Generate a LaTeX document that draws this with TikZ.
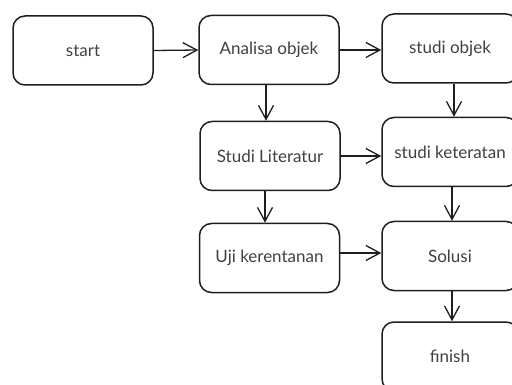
\documentclass[tikz,border=0pt]{standalone}
\usepackage{fontspec}
\setmainfont{Lato}
\usetikzlibrary{arrows.meta}
\definecolor{ink}{HTML}{1E1E1E}
\definecolor{txt}{HTML}{404040}
\begin{document}
\begin{tikzpicture}[x=1pt,y=-1pt,
  box/.style={draw=ink, line width=1.5pt, rounded corners=12pt, minimum width=140pt, minimum height=69pt, inner sep=0pt, text=txt, font=\fontsize{17}{19}\selectfont},
  rbox/.style={box, minimum width=136pt},
  conn/.style={draw=ink, line width=1.3pt, -{Straight Barb[length=14pt,width=15pt,line width=1.3pt]}}]
\useasboundingbox (0,0) rectangle (512,385);
\clip (0,0) rectangle (512,385);
\node[box] (start) at (83,50.5) {start};
\node[box] (ana) at (269,50) {Analisa objek};
\node[rbox] (sobj) at (450,48.5) {studi objek};
\node[box] (lit) at (270,156) {Studi Literatur};
\node[rbox] (sket) at (450,152) {studi keteratan};
\node[box] (uji) at (269.5,258) {Uji kerentanan};
\node[rbox] (sol) at (450,256) {Solusi};
\node[rbox] (fin) at (450,356.5) {finish};
\draw[conn] (start.east) -- (ana.west);
\draw[conn] (ana.east) -- (ana.east -| sobj.west);
\draw[conn] (ana.south -| 266,0) -- (lit.north -| 266,0);
\draw[conn] (sobj.south -| 454,0) -- (sket.north -| 454,0);
\draw[conn] (lit.east) -- (lit.east -| sket.west);
\draw[conn] (lit.south -| 265,0) -- (uji.north -| 265,0);
\draw[conn] (sket.south -| 452,0) -- (sol.north -| 452,0);
\draw[conn] (uji.east |- 253,253) -- (sol.west |- 253,253);
\draw[conn] (sol.south -| 452,0) -- (fin.north -| 452,0);
\end{tikzpicture}
\end{document}
